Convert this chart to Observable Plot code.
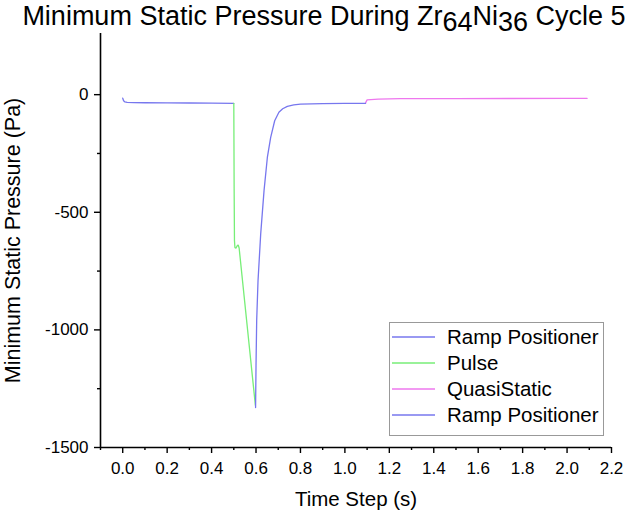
<!DOCTYPE html>
<html>
<head>
<meta charset="utf-8">
<script src="https://cdn.jsdelivr.net/npm/d3@7"></script>
<script src="https://cdn.jsdelivr.net/npm/@observablehq/plot@0.6"></script>
<style>
  html, body { margin: 0; padding: 0; background: #fff; }
  #wrap { position: relative; width: 630px; height: 512px; font-family: "Liberation Sans", Arial, sans-serif; color: #000; }
  #wrap > svg { position: absolute; left: 0; top: 0; }
  #title { position: absolute; left: 0; width: 648px; top: 1px; text-align: center; font-size: 27px; line-height: 30px; white-space: nowrap; }
  #title .sub { position: relative; top: 5.5px; }
  #legend { position: absolute; left: 389px; top: 322px; width: 215px; height: 114px; border: 1px solid #999; background: #fff; box-sizing: border-box; padding-top: 1px; }
  #legend .row { display: flex; align-items: center; height: 26px; font-size: 20.5px; }
  #legend .row svg { position: static; margin-left: 2px; margin-right: 12px; flex: none; }
</style>
</head>
<body>
<div id="wrap">
  <div id="title">Minimum Static Pressure During Zr<span class="sub">64</span>Ni<span class="sub">36</span> Cycle 5</div>
</div>
<script>
// ---- data ----
const ramp1T = [0, 0.004, 0.01, 0.02, 0.05, 0.1, 0.2, 0.3, 0.4, 0.5];
const ramp1P = [-15, -26, -31, -33, -34, -34.5, -35, -35.5, -36, -37];

const pulseT = [0.5, 0.5015, 0.503, 0.505, 0.51, 0.516, 0.52, 0.524, 0.597];
const pulseP = [-37, -400, -620, -650, -652, -641, -640, -652, -1320];

const ramp2T = [0.598, 0.600, 0.603, 0.609, 0.621, 0.636, 0.651, 0.666, 0.684, 0.703, 0.72, 0.741, 0.77, 0.80, 0.9, 1.0, 1.093];
const ramp2P = [-1330, -1150, -960, -791, -593, -409, -267, -182, -111, -75, -60, -50, -43, -40, -38, -37, -37];

const quasiT = [1.093, 1.1, 1.15, 1.25, 1.5, 2.0, 2.09];
const quasiP = [-35, -22, -19, -17, -16.5, -16, -16];

const seriesNames = ["Ramp Positioner", "Pulse", "QuasiStatic", "Ramp Positioner"];
const seriesColors = ["#7777ee", "#77ee77", "#ee77ee", "#7777ee"];

const xTicks = [0.0, 0.2, 0.4, 0.6, 0.8, 1.0, 1.2, 1.4, 1.6, 1.8, 2.0, 2.2];
const xMinor = [-0.1, 0.1, 0.3, 0.5, 0.7, 0.9, 1.1, 1.3, 1.5, 1.7, 1.9, 2.1];
const yTicks = [0, -500, -1000, -1500];
const yMinor = [-250, -750, -1250];
const xDomain = [-0.1, 2.2];
const yDomain = [-1500, 260];

const toRows = (T, P) => T.map((t, i) => ({t, p: P[i]}));
// drawing order: ramp1, pulse, quasi, ramp2
const series = [toRows(ramp1T, ramp1P), toRows(pulseT, pulseP), toRows(quasiT, quasiP), toRows(ramp2T, ramp2P)];

const plot = Plot.plot({
  width: 630,
  height: 512,
  marginLeft: 100,
  marginRight: 19,
  marginTop: 33,
  marginBottom: 65,
  style: {fontFamily: "'Liberation Sans', Arial, sans-serif", color: "#000", background: "transparent"},
  x: {domain: xDomain},
  y: {domain: yDomain},
  marks: [
    ...series.map((d, i) => Plot.line(d, {x: "t", y: "p", stroke: seriesColors[i], strokeWidth: 1.3})),
    Plot.ruleX([xDomain[0]], {y1: yDomain[0], y2: yDomain[1], strokeWidth: 1.6}),
    Plot.ruleY([yDomain[0]], {x1: xDomain[0], x2: xDomain[1], strokeWidth: 1.6}),
    Plot.axisX(xTicks, {tickSize: 6, tickPadding: 8, fontSize: 17, tickFormat: d => d.toFixed(1), label: null, strokeWidth: 1.4}),
    Plot.axisX(xMinor, {tickSize: 3, tickFormat: () => "", label: null, strokeWidth: 1.4}),
    Plot.axisY(yTicks, {tickSize: 6, tickPadding: 6, fontSize: 17, tickFormat: d => String(d), label: null, strokeWidth: 1.4}),
    Plot.axisY(yMinor, {tickSize: 3, tickFormat: () => "", label: null, strokeWidth: 1.4}),
    Plot.text(["Time Step (s)"], {frameAnchor: "bottom", dy: 58, fontSize: 20.5, fill: "#000"}),
    Plot.text(["Minimum Static Pressure (Pa)"], {frameAnchor: "left", textAnchor: "middle", dx: -87, rotate: -90, fontSize: 21.5, fill: "#000"})
  ]
});
document.getElementById("wrap").prepend(plot);

// legend
const legend = document.createElement("div");
legend.id = "legend";
seriesNames.forEach((name, i) => {
  const row = document.createElement("div");
  row.className = "row";
  row.innerHTML = `<svg width="43" height="4"><line x1="0" x2="43" y1="2" y2="2" stroke="${seriesColors[i]}" stroke-width="1.3"/></svg><span>${name}</span>`;
  legend.appendChild(row);
});
document.getElementById("wrap").appendChild(legend);
</script>
</body>
</html>
